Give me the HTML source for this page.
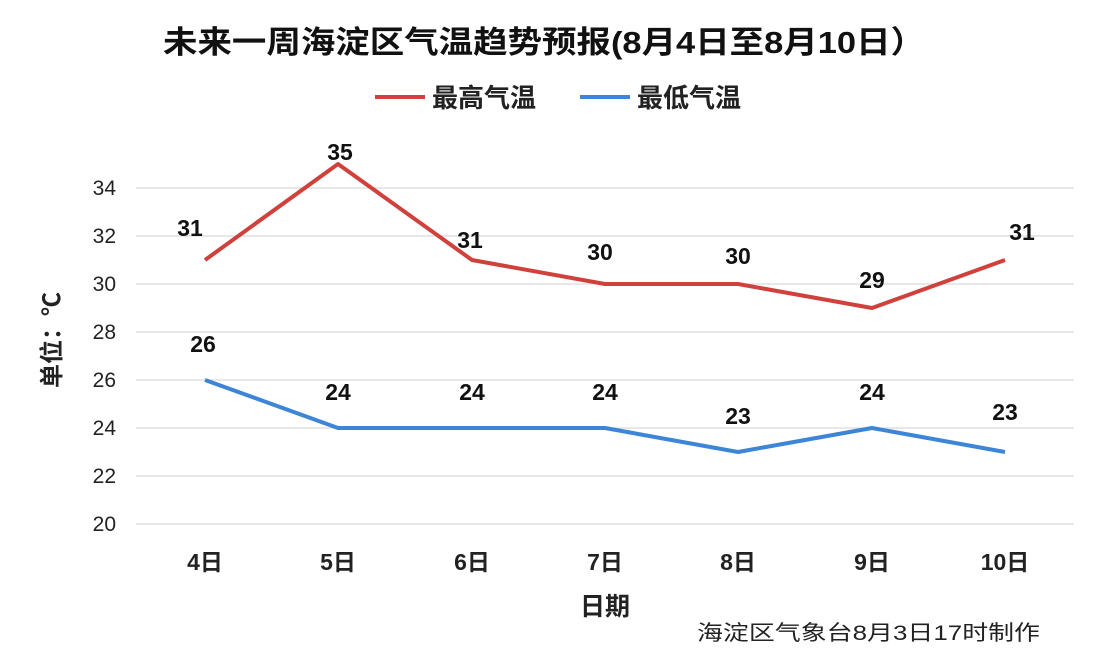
<!DOCTYPE html>
<html><head><meta charset="utf-8"><style>
body{margin:0;background:#fff;}
svg{display:block;font-family:"Liberation Sans","Noto Sans CJK SC",sans-serif;}
</style></head><body>
<svg width="1100" height="654" viewBox="0 0 1100 654">
<rect width="1100" height="654" fill="#fff"/>
<text x="163" y="53" font-size="31" font-weight="bold" textLength="762" lengthAdjust="spacingAndGlyphs" fill="#111">未来一周海淀区气温趋势预报(8月4日至8月10日）</text>
<line x1="375" y1="97" x2="425" y2="97" stroke="#d0413c" stroke-width="4"/>
<text x="432" y="107" font-size="26" font-weight="bold" fill="#222">最高气温</text>
<line x1="580" y1="97" x2="630" y2="97" stroke="#3d85d6" stroke-width="4"/>
<text x="637" y="107" font-size="26" font-weight="bold" fill="#222">最低气温</text>
<g stroke="#d9d9d9" stroke-width="1.3">
<line x1="136" y1="188" x2="1074" y2="188"/><line x1="136" y1="236" x2="1074" y2="236"/>
<line x1="136" y1="284" x2="1074" y2="284"/><line x1="136" y1="332" x2="1074" y2="332"/>
<line x1="136" y1="380" x2="1074" y2="380"/><line x1="136" y1="428" x2="1074" y2="428"/>
<line x1="136" y1="476" x2="1074" y2="476"/><line x1="136" y1="524" x2="1074" y2="524"/>
</g>
<g font-size="21" fill="#222" text-anchor="end">
<text x="116" y="195">34</text><text x="116" y="243">32</text><text x="116" y="291">30</text>
<text x="116" y="339">28</text><text x="116" y="387">26</text><text x="116" y="435">24</text>
<text x="116" y="483">22</text><text x="116" y="531">20</text>
</g>
<text transform="translate(60,340) rotate(-90)" font-size="24" font-weight="bold" text-anchor="middle" fill="#222">单位：℃</text>
<g font-size="23" font-weight="bold" fill="#222" text-anchor="middle">
<text x="205" y="570">4日</text><text x="338" y="570">5日</text><text x="472" y="570">6日</text>
<text x="605" y="570">7日</text><text x="738" y="570">8日</text><text x="872" y="570">9日</text>
<text x="1005" y="570">10日</text>
<text x="605" y="615" font-size="25">日期</text>
</g>
<text x="697" y="640" font-size="21" textLength="343" lengthAdjust="spacingAndGlyphs" fill="#222">海淀区气象台8月3日17时制作</text>
<polyline fill="none" stroke="#d0413c" stroke-width="4" stroke-linejoin="round" points="205,260 338,164 472,260 605,284 738,284 872,308 1005,260"/>
<polyline fill="none" stroke="#3d85d6" stroke-width="4" stroke-linejoin="round" points="205,380 338,428 472,428 605,428 738,452 872,428 1005,452"/>
<g font-size="23" font-weight="bold" fill="#111" text-anchor="middle">
<text x="190" y="236">31</text><text x="340" y="160">35</text><text x="470" y="248">31</text>
<text x="600" y="260">30</text><text x="738" y="264">30</text><text x="872" y="288">29</text><text x="1022" y="240">31</text>
<text x="203" y="352">26</text><text x="338" y="400">24</text><text x="472" y="400">24</text>
<text x="605" y="400">24</text><text x="738" y="424">23</text><text x="872" y="400">24</text><text x="1005" y="420">23</text>
</g>
</svg>
</body></html>
